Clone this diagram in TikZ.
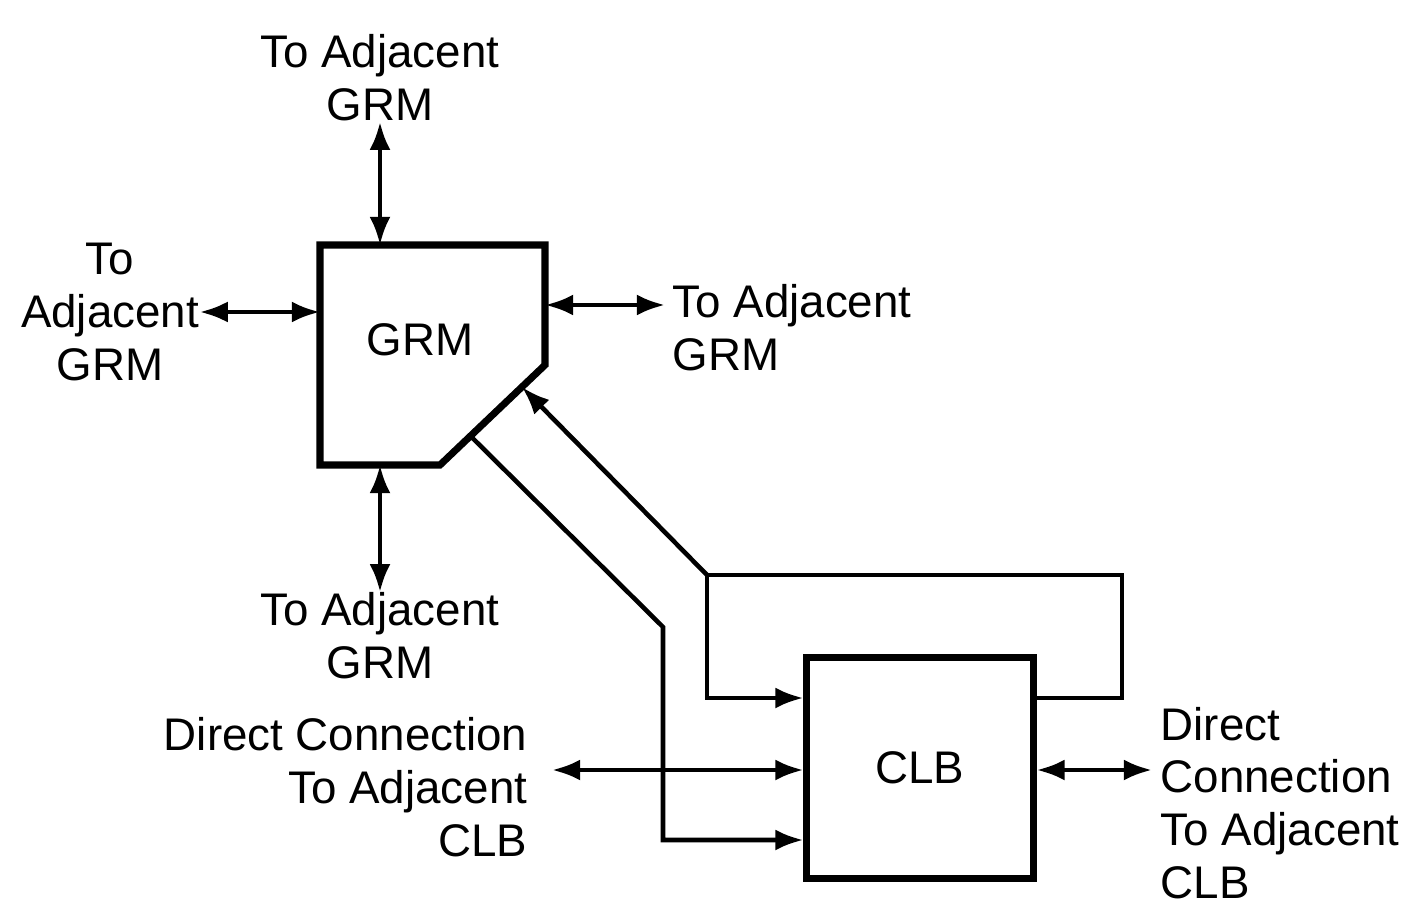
\documentclass[tikz,border=0pt]{standalone}
\usepackage{fontspec}
\setmainfont{Liberation Sans}
\usetikzlibrary{arrows.meta, calc}
\tikzset{
  blk/.style={draw, line width=2pt},
  wire/.style={line width=1.3pt},
  lbl/.style={align=center, inner sep=0pt},
}

\begin{document}
\begin{tikzpicture}[x=0.01cm, y=-0.01cm, font=\fontsize{13}{15}\selectfont, >={Latex[length=8pt,width=6pt]}]
  \useasboundingbox (0,0) rectangle (1419,907);
  % GRM block with its cut corner
  \coordinate (gnw) at (320,245);
  \coordinate (gne) at (545,245);
  \coordinate (gcr) at (545,365);
  \coordinate (gcb) at (440,465);
  \coordinate (gsw) at (320,465);
  \draw[blk, line join=miter] (gnw) -- (gne) -- (gcr) -- (gcb) -- (gsw) -- cycle;
  \node (grm) at (420,340) {GRM};
  \node[blk, minimum width=2.26cm, minimum height=2.2cm] (clb) at (920,768) {CLB};

  % labels
  \node[lbl] (ltop) at (380,78) {To Adjacent\\GRM};
  \node[lbl] (lbot) at (380,636) {To Adjacent\\GRM};
  \node[lbl] (lleft) at (110,312) {To\\Adjacent\\GRM};
  \node[lbl, align=left, anchor=west] (lright) at (672,328) {To Adjacent\\GRM};
  \node[lbl, align=right, anchor=east] (dcl) at (528,787) {Direct Connection\\To Adjacent\\CLB};
  \node[lbl, align=left, anchor=west] (dcr) at (1160,803) {Direct\\Connection\\To Adjacent\\CLB};

  % GRM to adjacent GRMs
  \draw[wire, <->] (ltop.south) -- (ltop.south |- gnw);
  \draw[wire, <->] (lbot.north |- gsw) -- (lbot.north);
  \draw[wire, <->] (lleft.east) -- (lleft.east -| gnw);
  \coordinate (rp) at (665,305);
  \draw[wire, <->] (rp -| gne) -- (rp);

  % direct connections
  \coordinate (dl) at (552,770);
  \coordinate (dr) at (1152,770);
  \draw[wire, <->] (dl) -- (dl -| clb.west);
  \draw[wire, <->] (clb.east |- dr) -- (dr);

  % GRM into CLB
  \coordinate (a0) at ($(gcb)!0.29!(gcr)$);
  \coordinate (a1) at (663,627);
  \coordinate (a2) at (663,840);
  \draw[wire, ->] (a0) -- (a1) -- (a2) -- (a2 -| clb.west);

  % CLB feedback and back to GRM
  \coordinate (fb1) at (1122,698);
  \coordinate (fb2) at (707,575);
  \draw[wire, ->] (clb.east |- fb1) -- (fb1) |- (fb2) |- (clb.west |- fb1);
  \draw[wire, ->] (fb2) -- ($(gcb)!0.78!(gcr)$);
\end{tikzpicture}
\end{document}
